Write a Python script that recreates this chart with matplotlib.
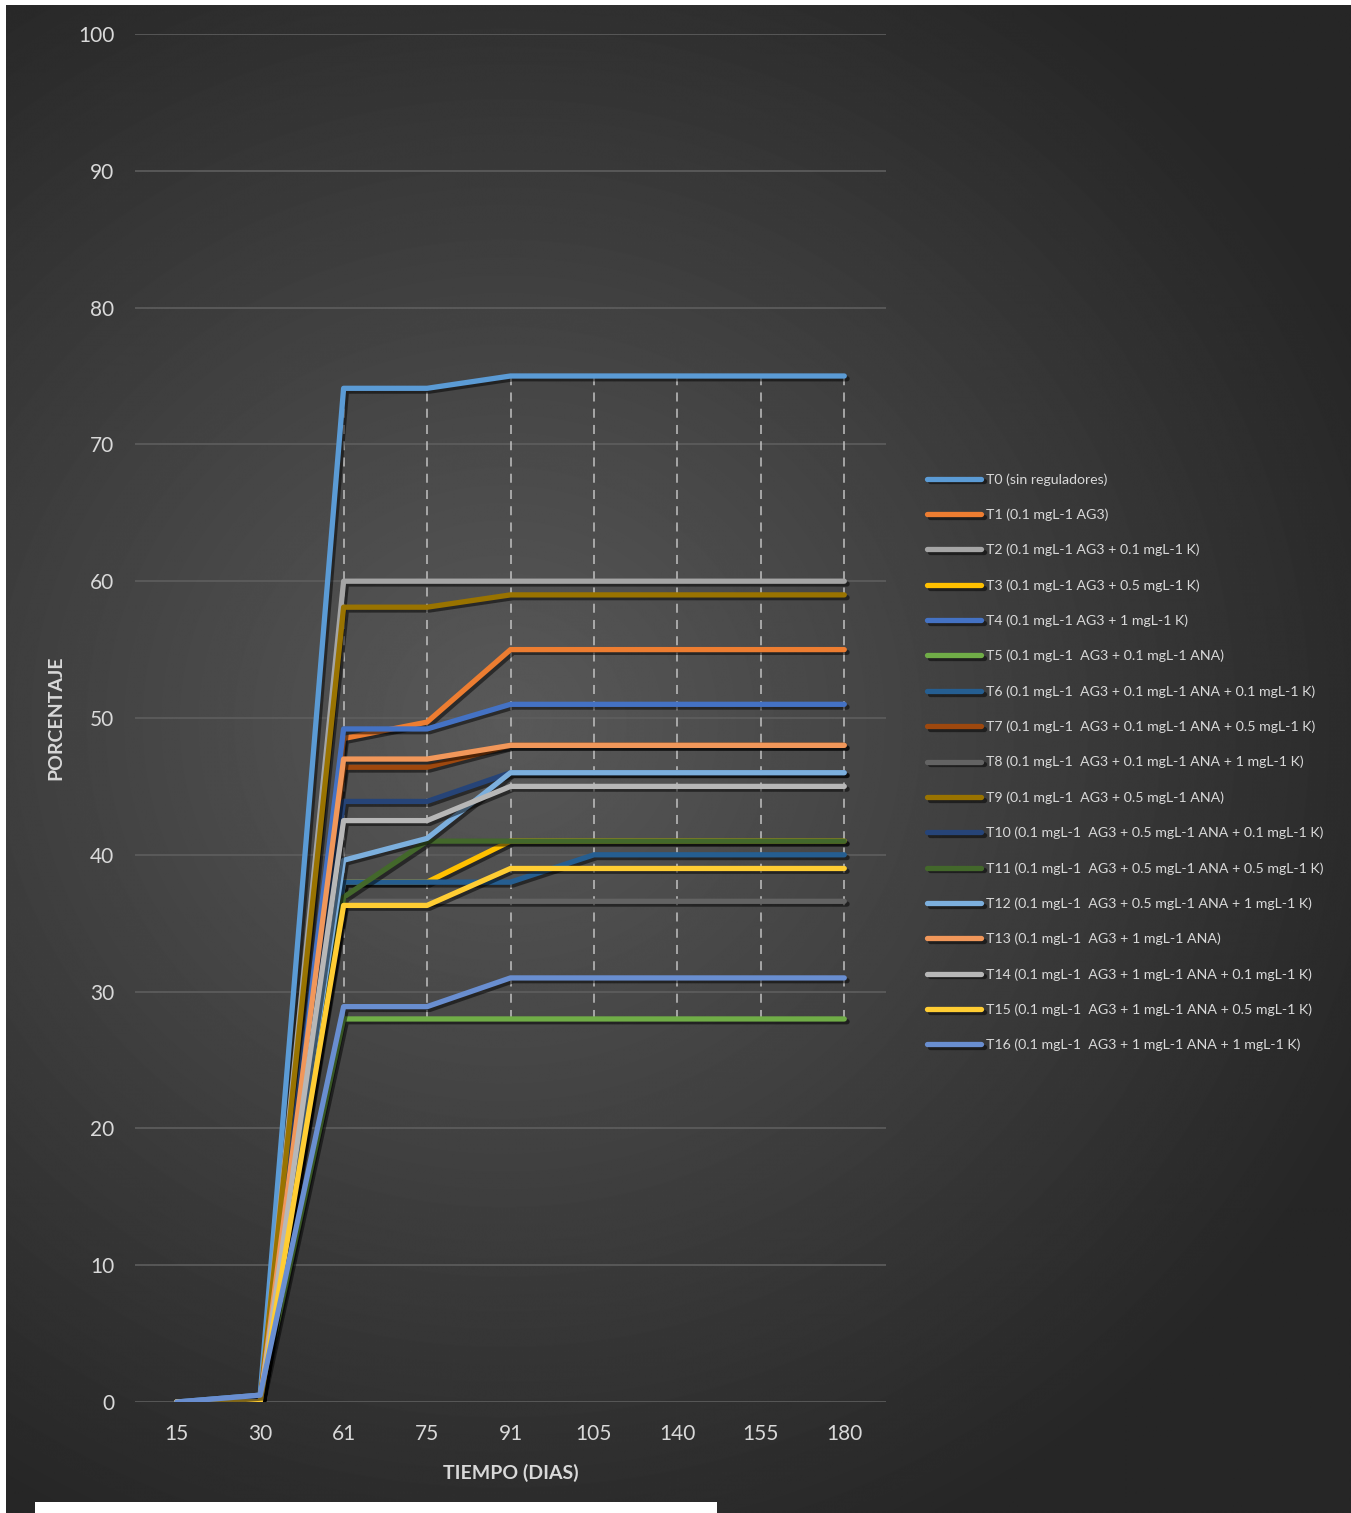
# germination percentage over time, 17 treatments, dark excel style

import numpy as np
import matplotlib.pyplot as plt
import matplotlib.patheffects as pe
from matplotlib.patches import Rectangle

plt.rcParams['font.family'] = ['Lato', 'DejaVu Sans']

#%% Data

dias = ['15', '30', '61', '75', '91', '105', '140', '155', '180']

labels = ['T0 (sin reguladores)',
          'T1 (0.1 mgL-1 AG3)',
          'T2 (0.1 mgL-1 AG3 + 0.1 mgL-1 K)',
          'T3 (0.1 mgL-1 AG3 + 0.5 mgL-1 K)',
          'T4 (0.1 mgL-1 AG3 + 1 mgL-1 K)',
          'T5 (0.1 mgL-1  AG3 + 0.1 mgL-1 ANA)',
          'T6 (0.1 mgL-1  AG3 + 0.1 mgL-1 ANA + 0.1 mgL-1 K)',
          'T7 (0.1 mgL-1  AG3 + 0.1 mgL-1 ANA + 0.5 mgL-1 K)',
          'T8 (0.1 mgL-1  AG3 + 0.1 mgL-1 ANA + 1 mgL-1 K)',
          'T9 (0.1 mgL-1  AG3 + 0.5 mgL-1 ANA)',
          'T10 (0.1 mgL-1  AG3 + 0.5 mgL-1 ANA + 0.1 mgL-1 K)',
          'T11 (0.1 mgL-1  AG3 + 0.5 mgL-1 ANA + 0.5 mgL-1 K)',
          'T12 (0.1 mgL-1  AG3 + 0.5 mgL-1 ANA + 1 mgL-1 K)',
          'T13 (0.1 mgL-1  AG3 + 1 mgL-1 ANA)',
          'T14 (0.1 mgL-1  AG3 + 1 mgL-1 ANA + 0.1 mgL-1 K)',
          'T15 (0.1 mgL-1  AG3 + 1 mgL-1 ANA + 0.5 mgL-1 K)',
          'T16 (0.1 mgL-1  AG3 + 1 mgL-1 ANA + 1 mgL-1 K)']

t0  = [0, 0.5, 74.1, 74.1, 75, 75, 75, 75, 75]
t1  = [0, 0, 48.5, 49.7, 55, 55, 55, 55, 55]
t2  = [0, 0, 60, 60, 60, 60, 60, 60, 60]
t3  = [0, 0, 38, 38, 41, 41, 41, 41, 41]
t4  = [0, 0, 49.2, 49.2, 51, 51, 51, 51, 51]
t5  = [0, 0, 28, 28, 28, 28, 28, 28, 28]
t6  = [0, 0, 38, 38, 38, 40, 40, 40, 40]
t7  = [0, 0, 46.4, 46.4, 48, 48, 48, 48, 48]
t8  = [0, 0, 36.6, 36.6, 36.6, 36.6, 36.6, 36.6, 36.6]
t9  = [0, 0, 58.1, 58.1, 59, 59, 59, 59, 59]
t10 = [0, 0, 43.9, 43.9, 46, 46, 46, 46, 46]
t11 = [0, 0, 36.9, 41, 41, 41, 41, 41, 41]
t12 = [0, 0, 39.6, 41.2, 46, 46, 46, 46, 46]
t13 = [0, 0, 47, 47, 48, 48, 48, 48, 48]
t14 = [0, 0, 42.5, 42.5, 45, 45, 45, 45, 45]
t15 = [0, 0, 36.3, 36.3, 39, 39, 39, 39, 39]
t16 = [0, 0.5, 28.9, 28.9, 31, 31, 31, 31, 31]

series = [t0, t1, t2, t3, t4, t5, t6, t7, t8, t9, t10, t11, t12, t13, t14, t15, t16]

colors = ['#5B9BD5', '#ED7D31', '#A5A5A5', '#FFC000', '#4472C4', '#70AD47',
          '#255E91', '#9E480E', '#636363', '#997300', '#264478', '#43682B',
          '#7CAFDD', '#F1975A', '#B7B7B7', '#FFCD33', '#698ED0']

txt = '#d9d9d9'

#%% Figure

W, H = 1351, 1513
fig = plt.figure(figsize=(W/100, H/100), dpi=100, facecolor='white')

# radial dark background
bg = fig.add_axes([6/W, 0, 1 - 6/W, 1 - 5/H], zorder=-5)
yy, xx = np.mgrid[0:H, 0:W]
r = np.sqrt(((xx - 500)/950.0)**2 + ((yy - 720)/900.0)**2)
shade = 0.35 - 0.2*np.clip(r, 0, 1)
bg.imshow(shade, cmap='gray', vmin=0, vmax=1, aspect='auto', interpolation='bilinear')
bg.axis('off')

fig.patches.append(Rectangle((35/W, 0), (717-35)/W, 11/H, transform=fig.transFigure,
                             facecolor='white', edgecolor='none', zorder=10))

ax = fig.add_axes([135/W, 1 - 1402/H, (886-135)/W, (1402-34)/H])
ax.patch.set_alpha(0)

x = np.arange(len(dias))
data = np.array(series)

# high-low lines
hi = data.max(axis=0)
lo = data.min(axis=0)
ax.vlines(x, lo, hi, colors='#c8c8c8', linestyles=(0, (5, 4)), linewidth=1.3, alpha=0.8, zorder=2)

shadow = [pe.SimpleLineShadow(offset=(2, -2), shadow_color='black', alpha=0.5), pe.Normal()]
for i in range(len(series)):
    ax.plot(x, series[i], '-', linewidth=3.8, color=colors[i], label=labels[i],
            solid_joinstyle='round', solid_capstyle='round', zorder=3, path_effects=shadow)

ax.set_xlim(-0.5, len(dias) - 0.5)
ax.set_ylim(0, 100)
ax.set_xticks(x)
ax.set_xticklabels(dias)
ax.set_yticks(np.arange(0, 101, 10))
ax.grid(axis='y', color='#5e5e5e', linewidth=1.2)
ax.set_axisbelow(True)
for s in ax.spines.values():
    s.set_visible(False)
ax.tick_params(length=0, colors=txt, labelsize=15)
ax.tick_params(axis='y', pad=15)
ax.tick_params(axis='x', pad=16)

ax.set_ylabel('PORCENTAJE', color=txt, fontsize=14, fontweight='bold', labelpad=10)
ax.set_xlabel('TIEMPO (DIAS)', color=txt, fontsize=14, fontweight='bold', labelpad=14)

leg = ax.legend(loc='upper left', bbox_to_anchor=(920/W, 1 - 466/H), bbox_transform=fig.transFigure,
                frameon=False, fontsize=10.2, labelcolor=txt, handlelength=3.8,
                handletextpad=0.35, labelspacing=1.61, borderpad=0)

fig.savefig('out.png', dpi=100, facecolor='white')
